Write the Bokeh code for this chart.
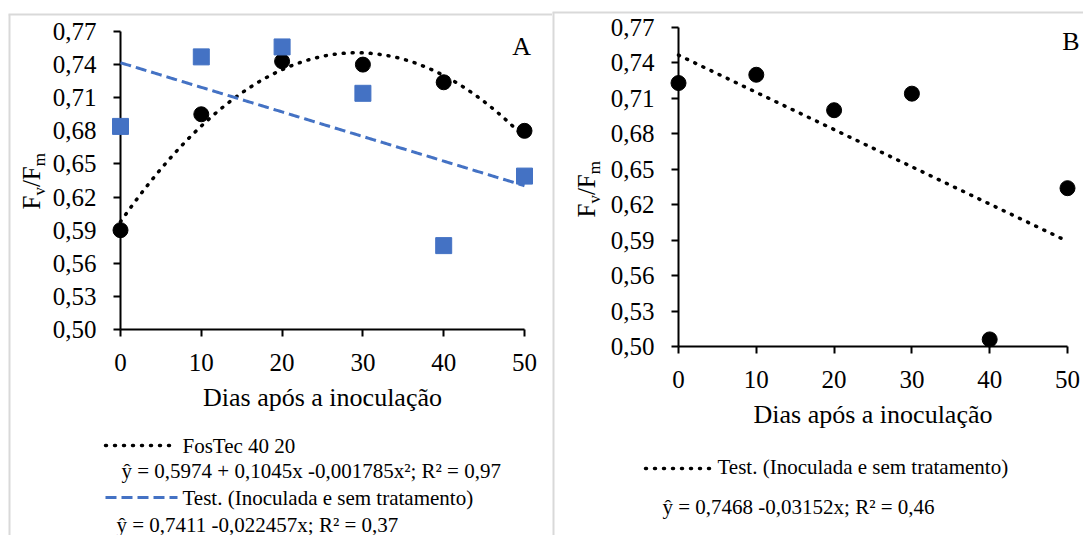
import numpy as np
from math import pi
from bokeh.plotting import figure
from bokeh.models import Range1d, FixedTicker, CustomJSTickFormatter
from bokeh.core.properties import value
from bokeh.embed import file_html
from bokeh.resources import INLINE

# ---------------- data ----------------
days = [0, 10, 20, 30, 40, 50]
fostec_a = [0.590, 0.695, 0.743, 0.740, 0.724, 0.680]
test_a = [0.684, 0.747, 0.756, 0.714, 0.576, 0.639]
test_b = [0.723, 0.730, 0.700, 0.714, 0.506, 0.634]
x_ticks = [0, 10, 20, 30, 40, 50]
y_ticks = [0.50, 0.53, 0.56, 0.59, 0.62, 0.65, 0.68, 0.71, 0.74, 0.77]
x_title = "Dias após a inoculação"
legend_fostec = "FosTec 40 20"
legend_test = "Test. (Inoculada e sem tratamento)"
eq_fostec_a = "ŷ = 0,5974 + 0,1045x -0,001785x²; R² = 0,97"
eq_test_a = "ŷ = 0,7411 -0,022457x; R² = 0,37"
eq_test_b = "ŷ = 0,7468 -0,03152x; R² = 0,46"
panel_a = "A"
panel_b = "B"

SERIF = "Liberation Serif"
BLUE = "#4472C4"
GRAY = "#d9d9d9"
H = 535


def make_panel(left, width, frame):
    fl, fr, ft, fb = frame
    p = figure(width=width, height=H, output_backend="svg", toolbar_location=None,
               x_range=Range1d(0, 50), y_range=Range1d(0.50, 0.77),
               min_border_left=fl - left, min_border_right=left + width - fr,
               min_border_top=ft, min_border_bottom=H - fb,
               border_fill_color=None, background_fill_color=None,
               outline_line_color=None)
    p.xgrid.visible = False
    p.ygrid.visible = False
    for ax in (p.xaxis[0], p.yaxis[0]):
        ax.axis_line_width = 2
        ax.axis_line_color = "black"
        ax.major_tick_line_width = 2
        ax.major_tick_line_color = "black"
        ax.major_tick_in = 0
        ax.major_tick_out = 7
        ax.minor_tick_line_color = None
        ax.major_label_text_font = SERIF
        ax.major_label_text_font_size = "25px"
        ax.major_label_text_color = "black"
    p.xaxis.ticker = FixedTicker(ticks=x_ticks)
    p.yaxis.ticker = FixedTicker(ticks=y_ticks)
    p.yaxis.formatter = CustomJSTickFormatter(code="return tick.toFixed(2).replace('.', ',');")
    p.xaxis.major_label_standoff = 17
    p.yaxis.major_label_standoff = 17
    p.xaxis.axis_label = x_title
    p.xaxis.axis_label_text_font = SERIF
    p.xaxis.axis_label_text_font_size = "26px"
    p.xaxis.axis_label_text_font_style = "normal"
    p.xaxis.axis_label_text_color = "black"
    p.xaxis.axis_label_standoff = 9

    def dx(px):
        return (px - fl) / (fr - fl) * 50.0

    def dy(py):
        return 0.77 - (py - ft) / (fb - ft) * 0.27

    return p, dx, dy


def add_text(p, x, y, text, size, angle=0.0):
    r = p.text(x=[x], y=[y], text=[text], angle=angle, text_font=value(SERIF),
               text_font_size=value(f"{size}px"), text_color="black",
               text_align="left", text_baseline="middle")
    r.level = "overlay"
    return r


def add_ytitle(p, dx, dy, base_px, start_py):
    # pieces of "Fv/Fm" with subscripts, rotated to read bottom-to-top
    pieces = [("F", 25, 0, 0.556), ("v", 17, 6, 0.5), ("/F", 25, 0, 0.834), ("m", 17, 6, 0.778)]
    y = start_py
    for text, size, shift, w in pieces:
        add_text(p, dx(base_px + shift - 0.3375 * size), dy(y), text, size, angle=pi / 2)
        y -= w * size


def overlay_line(p, xs, ys, **kw):
    r = p.line(xs, ys, **kw)
    r.level = "overlay"
    return r


def dotted(p, xs, ys):
    return overlay_line(p, xs, ys, line_color="black", line_width=3.5, line_dash="1 8",
                        line_cap="round")


def dashed(p, xs, ys):
    return overlay_line(p, xs, ys, line_color=BLUE, line_width=3, line_dash="11 5")


# ---------------- panel A ----------------
pa, ax_, ay_ = make_panel(0, 552, (120, 524, 31, 329))
overlay_line(pa, [ax_(8), ax_(552)], [ay_(14), ay_(14)], line_color=GRAY, line_width=2)
overlay_line(pa, [ax_(9), ax_(9)], [ay_(14), ay_(545)], line_color=GRAY, line_width=2)
xs = np.linspace(0, 50, 201)
quad = np.polyfit(days, fostec_a, 2)
lin_a = np.polyfit(days, test_a, 1)
dotted(pa, xs, np.polyval(quad, xs))
dashed(pa, xs, np.polyval(lin_a, xs))
r1 = pa.scatter(days, fostec_a, marker="circle", size=15, fill_color="black", line_color="black")
r2 = pa.scatter(days, test_a, marker="square", size=16, fill_color=BLUE, line_color=BLUE)
r1.level = "overlay"
r2.level = "overlay"
add_text(pa, ax_(511.7), ay_(46), panel_a, 26)
add_ytitle(pa, ax_, ay_, 39, 209)
dotted(pa, [ax_(105), ax_(177)], [ay_(445), ay_(445)])
add_text(pa, ax_(182), ay_(445), legend_fostec, 21)
add_text(pa, ax_(121), ay_(470), eq_fostec_a, 21)
dashed(pa, [ax_(105), ax_(177)], [ay_(497), ay_(497)])
add_text(pa, ax_(182), ay_(497), legend_test, 21)
add_text(pa, ax_(116), ay_(524), eq_test_a, 21)

# ---------------- panel B ----------------
pb, bx_, by_ = make_panel(552, 531, (678, 1067, 27, 346))
pb.styles = {"position": "absolute", "left": "552px", "top": "0px"}
overlay_line(pb, [bx_(552), bx_(1083)], [by_(12), by_(12)], line_color=GRAY, line_width=2)
overlay_line(pb, [bx_(553), bx_(553)], [by_(12), by_(545)], line_color=GRAY, line_width=2)
lin_b = np.polyfit(days, test_b, 1)
dotted(pb, xs, np.polyval(lin_b, xs))
r3 = pb.scatter(days, test_b, marker="circle", size=15, fill_color="black", line_color="black")
r3.level = "overlay"
add_text(pb, bx_(1061.7), by_(41), panel_b, 26)
add_ytitle(pb, bx_, by_, 594, 217)
dotted(pb, [bx_(645), bx_(713)], [by_(468), by_(468)])
add_text(pb, bx_(717), by_(466), legend_test, 21)
add_text(pb, bx_(662), by_(506), eq_test_b, 21)

open("out.html", "w").write(file_html([pa, pb], INLINE))
